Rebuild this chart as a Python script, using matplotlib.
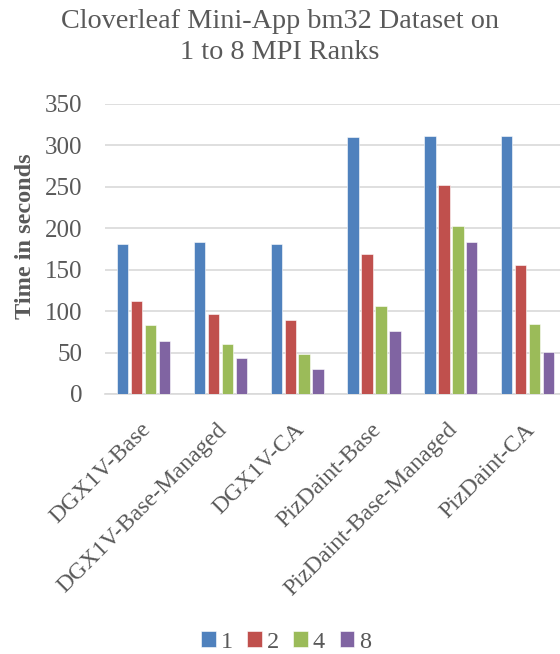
import matplotlib
matplotlib.use("Agg")
import matplotlib.pyplot as plt
import numpy as np

categories = ["DGX1V-Base", "DGX1V-Base-Managed", "DGX1V-CA",
              "PizDaint-Base", "PizDaint-Base-Managed", "PizDaint-CA"]
series_names = ["1", "2", "4", "8"]
ranks_1 = [181.6, 183.6, 181.6, 310.6, 311.4, 311.4]
ranks_2 = [112.8, 96.8, 89.6, 169.2, 252.0, 155.9]
ranks_4 = [83.5, 60.3, 48.6, 106.5, 203.3, 84.4]
ranks_8 = [64.3, 42.9, 30.1, 76.3, 183.6, 50.6]
yticks = [0, 50, 100, 150, 200, 250, 300, 350]

colors = ["#4F81BD", "#C0504D", "#9BBB59", "#8064A2"]
text_color = "#595959"
font = ["Liberation Serif", "DejaVu Serif"]
plt.rcParams["font.family"] = font

fig = plt.figure(figsize=(5.6, 6.54), dpi=100)
ax = fig.add_axes([105/560, 1 - 394/654, 455/560, 290/654])

x = np.arange(len(categories))
step = 0.182
width = 0.147
for i, (vals, name) in enumerate(zip([ranks_1, ranks_2, ranks_4, ranks_8], series_names)):
    ax.bar(x + (i - 1.5) * step, vals, width, color=colors[i], label=name,
           edgecolor="white", linewidth=0.4, zorder=3)

ax.set_ylim(0, 350)
ax.set_xlim(-0.5, 5.42)
ax.set_yticks(yticks)
ax.set_yticklabels([str(t) for t in yticks], fontsize=18, color=text_color)
ax.yaxis.grid(True, color="#D9D9D9", linewidth=1.2, zorder=0)
ax.set_axisbelow(True)
for s in ["top", "right", "left"]:
    ax.spines[s].set_visible(False)
ax.spines["bottom"].set_color("#D9D9D9")
ax.spines["bottom"].set_linewidth(1.2)
ax.tick_params(axis="y", length=0, pad=16.5)
ax.tick_params(axis="x", length=0, pad=18)
ax.set_xticks(x - 0.05)
ax.set_xticklabels(categories, rotation=45, ha="right", rotation_mode="anchor",
                   fontsize=17.2, color=text_color)

ax.set_ylabel("Time in seconds", fontsize=17.5, fontweight="bold", color=text_color)
ax.yaxis.set_label_coords(-0.152, 0.545)

fig.text(0.5, 1 - 37/654, "Cloverleaf Mini-App bm32 Dataset on\n1 to 8 MPI Ranks",
         ha="center", va="center", fontsize=20.3, color=text_color, linespacing=1.3)

leg = fig.legend(loc="center", bbox_to_anchor=(286/560, 1 - 642/654), ncol=4,
                 frameon=False, fontsize=17.5, handlelength=0.6, handleheight=0.6,
                 handletextpad=0.2, columnspacing=0.6)
for t in leg.get_texts():
    t.set_color(text_color)

fig.savefig("out.png", dpi=100)
